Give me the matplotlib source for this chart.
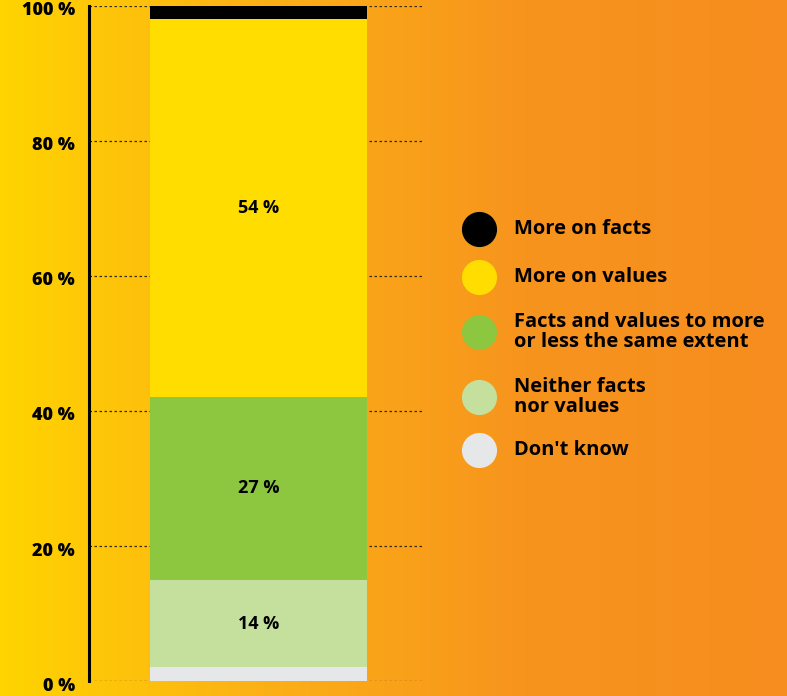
import numpy as np
import matplotlib
matplotlib.use('Agg')
import matplotlib.pyplot as plt
from matplotlib.colors import LinearSegmentedColormap
from matplotlib.transforms import ScaledTranslation

# stacked from the bottom up
categories = ["Don't know", 'Neither facts\nnor values',
              'Facts and values to more\nor less the same extent',
              'More on values', 'More on facts']
values = [2.1, 12.9, 27.1, 55.9, 2.0]
value_labels = ['', '14 %', '27 %', '54 %', '']
colors = ['#E6E7E8', '#C5E09D', '#8DC63F', '#FFDD00', '#000000']
yticks = [0, 20, 40, 60, 80, 100]
ytick_labels = ['0 %', '20 %', '40 %', '60 %', '80 %', '100 %']

W, H = 787, 696
fig = plt.figure(figsize=(W / 100, H / 100), dpi=100)

# background gradient yellow -> orange
bg = fig.add_axes([0, 0, 1, 1], zorder=0)
cmap = LinearSegmentedColormap.from_list('bg', ['#FFD400', '#FCB016', '#F7941D', '#F68D1F'])
bg.imshow(np.linspace(0, 1, 256)[None, :], aspect='auto', cmap=cmap,
          extent=[0, W, H, 0])
bg.set_xlim(0, W)
bg.set_ylim(H, 0)
bg.axis('off')

ax = fig.add_axes([89 / W, 1 - 681.3 / H, 333 / W, 675.8 / H], zorder=1)
ax.patch.set_alpha(0)

bottom = 0
for v, c, lab in zip(values, colors, value_labels):
    ax.bar(0, v, width=1, bottom=bottom, color=c, zorder=3)
    if lab:
        ax.text(0, bottom + v / 2, lab, ha='center', va='center',
                fontsize=13, fontweight='bold', family='Open Sans', zorder=4)
    bottom += v

ax.set_xlim(-0.781, 0.753)
ax.set_ylim(0, 100)
ax.set_xticks([])
ax.set_yticks(yticks)
ax.set_yticklabels(ytick_labels, fontsize=13, fontweight='heavy', family='Open Sans')
ax.tick_params(axis='y', length=0, pad=10)
off = ScaledTranslation(0, -3 / 100, fig.dpi_scale_trans)
for t in ax.get_yticklabels():
    t.set_transform(t.get_transform() + off)
ax.grid(axis='y', color='#3a2a10', linestyle=(0, (2, 2)), linewidth=0.9, zorder=1)
for s in ['top', 'right', 'bottom']:
    ax.spines[s].set_visible(False)
ax.spines['left'].set_linewidth(2.2)
ax.spines['left'].set_zorder(5)

# legend, top entry first
leg_y = [229, 277, 332, 397, 450]
for y, c, name in zip(leg_y, colors[::-1], categories[::-1]):
    bg.scatter([479], [y], s=640, color=c, zorder=3, linewidths=0)
    bg.text(514, y, name, ha='left', va='center', fontsize=14.5,
            fontweight='bold', family='Open Sans', linespacing=1.05)

fig.savefig('out.png', dpi=100)
